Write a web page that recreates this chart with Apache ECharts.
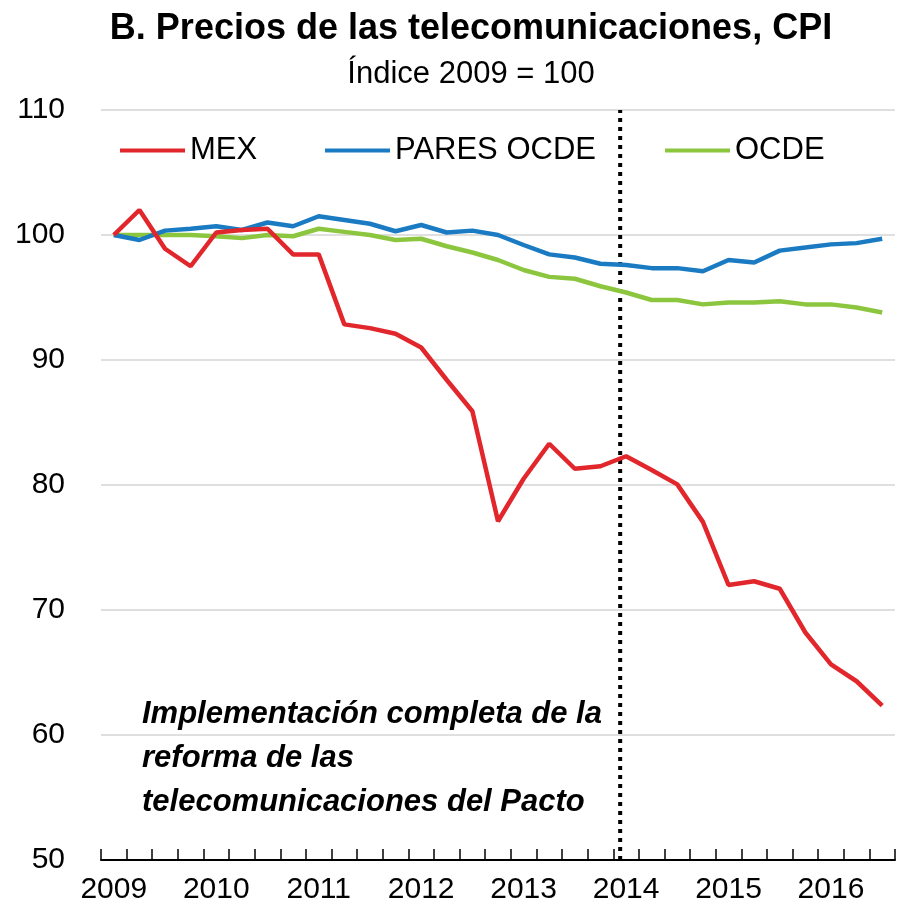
<!DOCTYPE html>
<html>
<head>
<meta charset="utf-8">
<script src="https://cdn.jsdelivr.net/npm/echarts@6/dist/echarts.min.js"></script>
<style>
  html, body { margin: 0; padding: 0; background: #fff; }
  #chart { width: 905px; height: 912px; }
</style>
</head>
<body>
<div id="chart"></div>
<script>
// trimestres 2009T1 - 2016T3
const quarters = []
for (let y = 2009; y <= 2016; y++) {
  for (let q = 1; q <= 4; q++) {
    if (y === 2016 && q === 4) break
    quarters.push(y + 'T' + q)
  }
}

const mex = [100, 102.0, 98.9, 97.5, 100.2, 100.4, 100.5, 98.45, 98.45, 92.85,
  92.55, 92.1, 91.0, 88.4, 85.9, 77.1, 80.5, 83.3, 81.3, 81.5,
  82.3, 81.2, 80.05, 77.05, 72.0, 72.3, 71.7, 68.2, 65.65, 64.3, 62.35]

const paresOcde = [100, 99.6, 100.35, 100.5, 100.7, 100.4, 101.0, 100.7, 101.5, 101.2,
  100.9, 100.3, 100.8, 100.2, 100.35, 100.0, 99.2, 98.45, 98.2, 97.7,
  97.6, 97.35, 97.35, 97.1, 98.0, 97.8, 98.75, 99.0, 99.25, 99.35, 99.7]

const ocde = [100, 100.0, 100.0, 100.0, 99.9, 99.75, 100.0, 99.9, 100.5, 100.25,
  100.0, 99.6, 99.7, 99.1, 98.6, 98.0, 97.2, 96.65, 96.5, 95.9,
  95.4, 94.8, 94.8, 94.45, 94.6, 94.6, 94.7, 94.45, 94.45, 94.2, 93.8]

// posición de la línea vertical (índice de trimestre)
const reformaX = 19.77

const FONT = '"Liberation Sans Narrow", "Arial Narrow", "Liberation Sans", Arial, sans-serif'
const RED = '#E1262C'
const BLUE = '#1A7BC3'
const GREEN = '#8CC63F'

const chart = echarts.init(document.getElementById('chart'))

function legendAt (name, left) {
  return {
    data: [name],
    left: left,
    top: 135,
    padding: 0,
    icon: 'rect',
    itemWidth: 65,
    itemHeight: 4,
    textStyle: { fontFamily: FONT, fontSize: 31, color: '#000' }
  }
}

const option = {
  animation: false,
  title: [
    {
      text: 'B. Precios de las telecomunicaciones, CPI',
      left: 471,
      top: 11,
      padding: 0,
      textAlign: 'center',
      textStyle: { fontFamily: FONT, fontSize: 36, fontWeight: 'bold', color: '#000' }
    },
    {
      text: 'Índice 2009 = 100',
      left: 471,
      top: 59,
      padding: 0,
      textAlign: 'center',
      textStyle: { fontFamily: FONT, fontSize: 31, fontWeight: 'normal', color: '#000' }
    }
  ],
  legend: [
    legendAt('MEX', 120),
    legendAt('PARES OCDE', 325),
    legendAt('OCDE', 665)
  ],
  grid: { left: 101, right: 10, top: 110, bottom: 52, containLabel: false },
  xAxis: [
    {
      type: 'category',
      data: quarters,
      boundaryGap: true,
      axisLine: { lineStyle: { color: '#000', width: 2 } },
      axisTick: { show: true, inside: true, length: 11, interval: 0, lineStyle: { color: '#000', width: 1.5 } },
      axisLabel: {
        interval: 3,
        margin: 15,
        fontFamily: FONT,
        fontSize: 30,
        color: '#000',
        formatter: v => v.slice(0, 4)
      },
      splitLine: { show: false }
    },
    {
      type: 'value',
      min: -0.5,
      max: 30.5,
      show: false
    }
  ],
  yAxis: {
    type: 'value',
    min: 50,
    max: 110,
    interval: 10,
    axisLine: { show: false },
    axisTick: { show: false },
    axisLabel: { margin: 36, fontFamily: FONT, fontSize: 30, color: '#000' },
    splitLine: { show: true, lineStyle: { color: '#d4d4d4', width: 1.5 } }
  },
  graphic: [
    {
      type: 'text',
      left: 142,
      top: 692,
      style: {
        text: 'Implementación completa de la\nreforma de las\ntelecomunicaciones del Pacto',
        font: 'italic bold 31px ' + FONT,
        lineHeight: 44,
        fill: '#000'
      }
    }
  ],
  series: [
    {
      name: 'reforma',
      type: 'line',
      xAxisIndex: 1,
      data: [[reformaX, 50], [reformaX, 110]],
      symbol: 'none',
      silent: true,
      lineStyle: { color: '#000', width: 4, type: [4, 5] },
      z: 1
    },
    {
      name: 'OCDE',
      type: 'line',
      data: ocde,
      symbol: 'none',
      color: GREEN,
      lineStyle: { width: 4.5 },
      z: 2
    },
    {
      name: 'PARES OCDE',
      type: 'line',
      data: paresOcde,
      symbol: 'none',
      color: BLUE,
      lineStyle: { width: 4.5 },
      z: 3
    },
    {
      name: 'MEX',
      type: 'line',
      data: mex,
      symbol: 'none',
      color: RED,
      lineStyle: { width: 4.5 },
      z: 4
    }
  ]
}

chart.setOption(option)
</script>
</body>
</html>
